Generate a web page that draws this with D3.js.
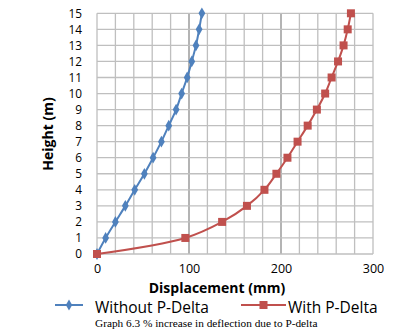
<!DOCTYPE html>
<html><head><meta charset="utf-8">
<script src="https://cdn.jsdelivr.net/npm/d3@7"></script>
<style>body{margin:0;background:#fff;}svg{display:block;}</style>
</head><body>
<svg id="c" width="412" height="330"></svg>
<script>
const heights = [0,1,2,3,4,5,6,7,8,9,10,11,12,13,14,15];
const withoutPDelta = [0,9.4,20,30.8,41,51.5,61,70,78,86,92,98,103,107.6,111,114];
const withPDelta = [0,96,136,163,182,195,207,218,229,239,248,255,262,268,272.5,276];
const xTicks = [0,100,200,300];
const yTicks = [0,1,2,3,4,5,6,7,8,9,10,11,12,13,14,15];
const seriesNames = ["Without P-Delta","With P-Delta"];

const svg = d3.select("#c");
const x = d3.scaleLinear().domain([0,300]).range([97,373]);
const y = d3.scaleLinear().domain([0,15]).range([254,13.3]);
const font = "'Open Sans', sans-serif";

// grid
const g = svg.append("g");
g.selectAll(".vx").data(d3.range(0,301,20)).join("line")
  .attr("x1",d=>x(d)).attr("x2",d=>x(d)).attr("y1",y(0)).attr("y2",y(15))
  .attr("stroke",d=>(d%100===0 && d>0 && d<300)?"#8c8c8c":"#bfbfbf").attr("stroke-width",1.3);
g.selectAll(".hy").data(yTicks).join("line")
  .attr("x1",x(0)).attr("x2",x(300)).attr("y1",d=>y(d)).attr("y2",d=>y(d))
  .attr("stroke","#bfbfbf").attr("stroke-width",1.3);

// axes labels
const yAxis = d3.axisLeft(y).tickValues(yTicks).tickSize(0).tickPadding(15);
const ya = svg.append("g").attr("transform",`translate(${x(0)},0)`).call(yAxis);
ya.select(".domain").remove();
ya.selectAll("text").attr("font-family",font).attr("font-size",11.8).attr("fill","#000");
const xAxis = d3.axisBottom(x).tickValues(xTicks).tickSize(0).tickPadding(10);
const xa = svg.append("g").attr("transform",`translate(0,${y(0)})`).call(xAxis);
xa.select(".domain").remove();
xa.selectAll("text").attr("font-family",font).attr("font-size",12.5).attr("fill","#000");

svg.append("text").attr("transform","translate(53,134) rotate(-90)").attr("text-anchor","middle")
  .attr("font-family",font).attr("font-weight","bold").attr("font-size",14).text("Height (m)");
svg.append("text").attr("x",217).attr("y",293).attr("text-anchor","middle")
  .attr("font-family",font).attr("font-weight","bold").attr("font-size",14).text("Displacement (mm)");

const colors = ["#4F81BD","#C0504D"];
const data = [withoutPDelta, withPDelta];
const line = d3.line().x(d=>x(d[0])).y(d=>y(d[1])).curve(d3.curveCatmullRom.alpha(0.5));
data.forEach((vals,i)=>{
  const pts = vals.map((v,j)=>[v,heights[j]]);
  svg.append("path").attr("d",line(pts)).attr("fill","none").attr("stroke",colors[i]).attr("stroke-width",2);
  if(i===0){
    svg.selectAll(".m0").data(pts).join("path")
      .attr("transform",d=>`translate(${x(d[0])},${y(d[1])})`)
      .attr("d",d3.symbol(d3.symbolDiamond,40)()).attr("fill",colors[0]);
  } else {
    svg.selectAll(".m1").data(pts).join("rect")
      .attr("x",d=>x(d[0])-4).attr("y",d=>y(d[1])-4).attr("width",8).attr("height",8).attr("fill",colors[1]);
  }
});

// legend
const leg = [{x1:55,x2:83,tx:95},{x1:241,x2:286,tx:288}];
leg.forEach((L,i)=>{
  svg.append("line").attr("x1",L.x1).attr("x2",L.x2).attr("y1",305).attr("y2",305).attr("stroke",colors[i]).attr("stroke-width",2);
  const cx=(L.x1+L.x2)/2;
  if(i===0) svg.append("path").attr("transform",`translate(${cx},305)`).attr("d",d3.symbol(d3.symbolDiamond,35)()).attr("fill",colors[0]);
  else svg.append("rect").attr("x",cx-4).attr("y",301).attr("width",8).attr("height",8).attr("fill",colors[1]);
  svg.append("text").attr("x",L.tx).attr("y",312.5).attr("font-family",font).attr("font-size",15.5).attr("fill","#000").text(seriesNames[i]);
});

svg.append("text").attr("x",95).attr("y",326.5).attr("font-family","'Liberation Serif', serif").attr("font-size",11.3)
  .attr("fill","#000").text("Graph 6.3 % increase in deflection due to P-delta");
</script>
</body></html>
